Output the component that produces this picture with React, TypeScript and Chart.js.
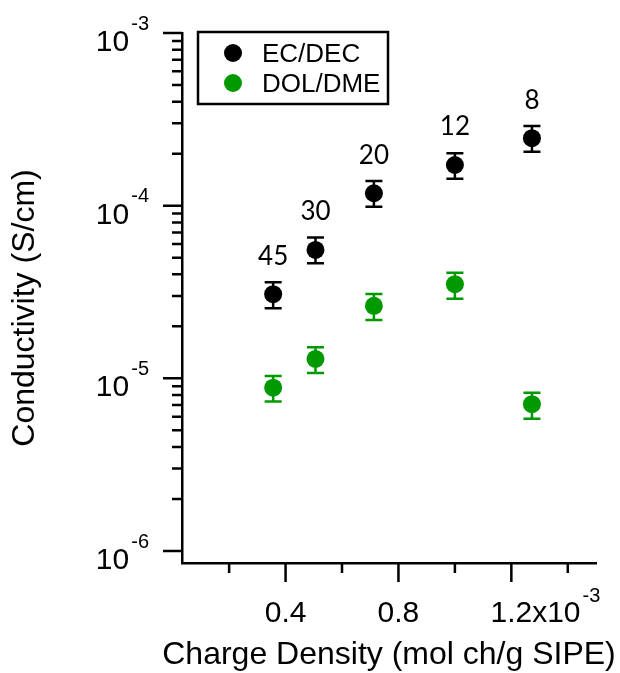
import React, { useEffect, useRef } from "react";
import { Chart, registerables } from "chart.js";

Chart.register(...registerables);

// ---- data ----
const chargeDensity = [0.356e-3, 0.506e-3, 0.713e-3, 1.0e-3, 1.273e-3];
const ecDec = [3.07e-5, 5.54e-5, 1.18e-4, 1.72e-4, 2.46e-4];
const ecDecLow = [2.55e-5, 4.64e-5, 9.87e-5, 1.43e-4, 2.05e-4];
const ecDecHigh = [3.6e-5, 6.53e-5, 1.39e-4, 2.01e-4, 2.89e-4];
const dolDme = [8.83e-6, 1.295e-5, 2.63e-5, 3.51e-5, 7.08e-6];
const dolDmeLow = [7.33e-6, 1.075e-5, 2.18e-5, 2.89e-5, 5.84e-6];
const dolDmeHigh = [1.03e-5, 1.514e-5, 3.08e-5, 4.09e-5, 8.26e-6];
const pointLabels = ["45", "30", "20", "12", "8"];
const seriesNames = ["EC/DEC", "DOL/DME"];
const seriesColors = ["#000000", "#009a00"];

const xMajorTicks = [0.4e-3, 0.8e-3, 1.2e-3];
const xMajorLabels = ["0.4", "0.8", "1.2"];
const xMinorTicks = [0.2e-3, 0.6e-3, 1.0e-3, 1.4e-3];
const xMultiplierBase = "x10";
const xMultiplierExp = "-3";
const yDecades = [-6, -5, -4, -3];
const yMinorMultipliers = [2, 3, 4, 5, 6, 7, 8, 9];
const xTitle = "Charge Density (mol ch/g SIPE)";
const yTitle = "Conductivity (S/cm)";

const errorBounds = [
  [ecDecLow, ecDecHigh],
  [dolDmeLow, dolDmeHigh],
];

const SANS = "'Liberation Sans', Arial, sans-serif";

const decorPlugin = {
  id: "decor",
  beforeDatasetsDraw(chart: any) {
    const ctx = chart.ctx;
    const ys = chart.scales.y;
    ctx.save();
    ctx.lineWidth = 2.5;
    errorBounds.forEach((pair, i) => {
      const meta = chart.getDatasetMeta(i);
      ctx.strokeStyle = seriesColors[i];
      meta.data.forEach((pt: any, j: number) => {
        const x = pt.x;
        const yLo = ys.getPixelForValue(pair[0][j]);
        const yHi = ys.getPixelForValue(pair[1][j]);
        ctx.beginPath();
        ctx.moveTo(x, yLo);
        ctx.lineTo(x, yHi);
        ctx.moveTo(x - 8.5, yLo);
        ctx.lineTo(x + 8.5, yLo);
        ctx.moveTo(x - 8.5, yHi);
        ctx.lineTo(x + 8.5, yHi);
        ctx.stroke();
      });
    });
    ctx.restore();
  },
  afterDraw(chart: any) {
    const ctx = chart.ctx;
    const xs = chart.scales.x;
    const ys = chart.scales.y;
    const area = chart.chartArea;
    ctx.save();
    ctx.strokeStyle = "#000";
    ctx.fillStyle = "#000";
    ctx.lineWidth = 2.5;

    // y ticks
    ctx.beginPath();
    yDecades.forEach((d) => {
      const yp = ys.getPixelForValue(Math.pow(10, d));
      ctx.moveTo(area.left - 19, yp);
      ctx.lineTo(area.left, yp);
      if (d < -3) {
        yMinorMultipliers.forEach((m) => {
          const v = m * Math.pow(10, d);
          const p = ys.getPixelForValue(v);
          ctx.moveTo(area.left - 10, p);
          ctx.lineTo(area.left, p);
        });
      }
    });
    // x ticks
    xMajorTicks.forEach((v) => {
      const p = xs.getPixelForValue(v);
      ctx.moveTo(p, area.bottom);
      ctx.lineTo(p, area.bottom + 19);
    });
    xMinorTicks.forEach((v) => {
      const p = xs.getPixelForValue(v);
      ctx.moveTo(p, area.bottom);
      ctx.lineTo(p, area.bottom + 10);
    });
    ctx.stroke();

    // y tick labels: 10^d
    ctx.textBaseline = "alphabetic";
    yDecades.forEach((d) => {
      const yp = ys.getPixelForValue(Math.pow(10, d));
      const exp = String(d);
      ctx.font = `20px ${SANS}`;
      const expW = ctx.measureText(exp).width;
      const rightEdge = area.left - 33;
      ctx.textAlign = "left";
      ctx.fillText(exp, rightEdge - expW, yp - 3.3);
      ctx.font = `30px ${SANS}`;
      ctx.textAlign = "right";
      ctx.fillText("10", rightEdge - expW - 2, yp + 17.9);
    });

    // x tick labels
    const xBase = area.bottom + 59;
    ctx.font = `30px ${SANS}`;
    ctx.textAlign = "center";
    xMajorTicks.forEach((v, i) => {
      const p = xs.getPixelForValue(v);
      ctx.fillText(xMajorLabels[i], p, xBase);
    });
    {
      const last = xMajorTicks.length - 1;
      const p = xs.getPixelForValue(xMajorTicks[last]);
      const w = ctx.measureText(xMajorLabels[last]).width;
      ctx.textAlign = "left";
      const startX = p + w / 2;
      ctx.fillText(xMultiplierBase, startX, xBase);
      const bw = ctx.measureText(xMultiplierBase).width;
      ctx.font = `20px ${SANS}`;
      ctx.fillText(xMultiplierExp, startX + bw + 2, xBase - 20);
    }

    // axis titles
    ctx.font = `32px ${SANS}`;
    ctx.textAlign = "center";
    ctx.fillText(xTitle, (area.left + area.right) / 2, area.bottom + 100.5);
    ctx.save();
    ctx.translate(34, 308);
    ctx.rotate(-Math.PI / 2);
    ctx.font = `32px ${SANS}`;
    ctx.fillText(yTitle, 0, 0);
    ctx.restore();

    // point labels above EC/DEC
    const meta0 = chart.getDatasetMeta(0);
    ctx.font = `26px Lato, 'Open Sans', sans-serif`;
    ctx.textAlign = "center";
    meta0.data.forEach((pt: any, j: number) => {
      ctx.fillText(pointLabels[j], pt.x, pt.y - 29.5);
    });

    // legend
    const lx = area.left + 16;
    const ly = area.top - 1;
    ctx.lineWidth = 2.5;
    ctx.strokeRect(lx, ly, 190, 72);
    ctx.font = `26px ${SANS}`;
    ctx.textAlign = "left";
    seriesNames.forEach((name, i) => {
      const cy = ly + 21 + i * 30;
      ctx.fillStyle = seriesColors[i];
      ctx.beginPath();
      ctx.arc(lx + 35, cy, 9, 0, Math.PI * 2);
      ctx.fill();
      ctx.fillStyle = "#000";
      ctx.fillText(name, lx + 64, cy + 9.3);
    });

    ctx.restore();
  },
};

export default function App() {
  const canvasRef = useRef<HTMLCanvasElement | null>(null);

  useEffect(() => {
    const canvas = canvasRef.current;
    if (!canvas) return;
    const chart = new Chart(canvas, {
      type: "scatter",
      data: {
        datasets: [
          {
            label: seriesNames[0],
            data: chargeDensity.map((x, i) => ({ x, y: ecDec[i] })),
            backgroundColor: seriesColors[0],
            borderColor: seriesColors[0],
            pointRadius: 9,
            borderWidth: 0,
          },
          {
            label: seriesNames[1],
            data: chargeDensity.map((x, i) => ({ x, y: dolDme[i] })),
            backgroundColor: seriesColors[1],
            borderColor: seriesColors[1],
            pointRadius: 9,
            borderWidth: 0,
          },
        ],
      },
      options: {
        responsive: false,
        animation: false,
        events: [],
        layout: { padding: { left: 182, top: 33, right: 24, bottom: 110 } },
        plugins: {
          legend: { display: false },
          tooltip: { enabled: false },
        },
        scales: {
          x: {
            type: "linear",
            min: 0.033e-3,
            max: 1.5e-3,
            grid: { display: false, drawTicks: false },
            ticks: { display: false },
            border: { display: true, width: 2.5, color: "#000" },
          },
          y: {
            type: "logarithmic",
            min: 8.52e-7,
            max: 1e-3,
            grid: { display: false, drawTicks: false },
            ticks: { display: false },
            border: { display: true, width: 2.5, color: "#000" },
          },
        },
      },
      plugins: [decorPlugin],
    });
    return () => chart.destroy();
  }, []);

  return (
    <div style={{ position: "fixed", left: 0, top: 0, width: 620, height: 673, background: "#fff" }}>
      <canvas ref={canvasRef} width={620} height={673} style={{ display: "block" }} />
    </div>
  );
}
